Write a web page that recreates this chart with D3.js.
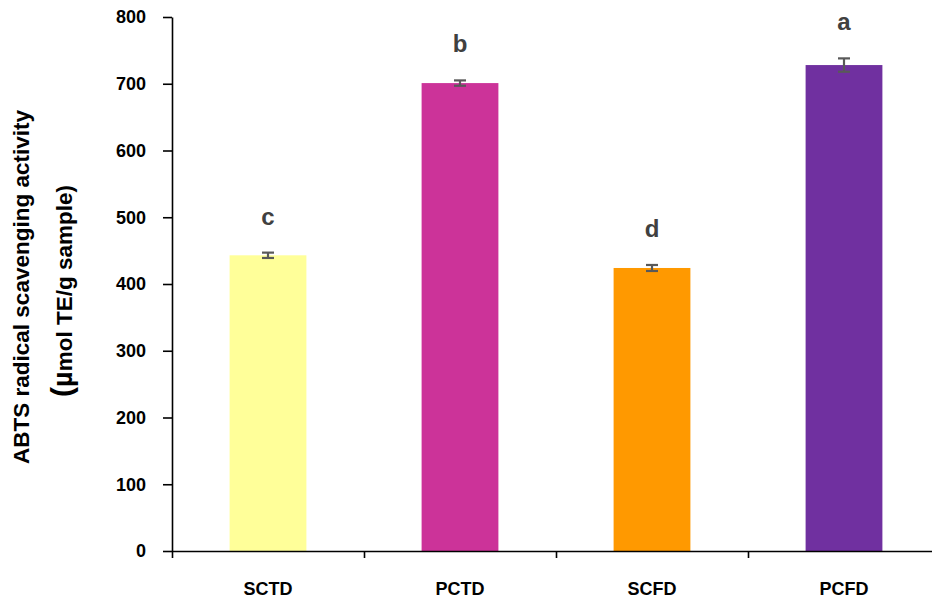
<!DOCTYPE html>
<html>
<head>
<meta charset="utf-8">
<script src="https://cdn.jsdelivr.net/npm/d3@7"></script>
<style>
  body { margin: 0; background: #fff; }
  text { font-family: Arial, "Liberation Sans", sans-serif; font-weight: bold; }
</style>
</head>
<body>
<svg id="chart"></svg>
<script>
const w = 932;
const h = 600;

const samples = ["SCTD", "PCTD", "SCFD", "PCFD"];
const activity = [443, 701, 424, 728];
const errors = [4, 4, 4.5, 10];
const letters = ["c", "b", "d", "a"];
const colors = ["#ffff99", "#cc3399", "#ff9900", "#7030a0"];
const yTicks = [0, 100, 200, 300, 400, 500, 600, 700, 800];

const plotLeft = 172, plotRight = 940, plotTop = 17, plotBottom = 551;

const svg = d3.select("#chart")
  .attr("width", w)
  .attr("height", h);

const xScale = d3.scaleBand()
  .domain(samples)
  .range([plotLeft, plotRight])
  .paddingInner(0.6)
  .paddingOuter(0.3);

const yScale = d3.scaleLinear()
  .domain([0, 800])
  .range([plotBottom, plotTop]);

const data = samples.map((s, i) => ({
  name: s, value: activity[i], err: errors[i], letter: letters[i], color: colors[i]
}));

// bars
svg.selectAll("rect.bar")
  .data(data)
  .enter()
  .append("rect")
  .attr("class", "bar")
  .attr("x", d => xScale(d.name))
  .attr("y", d => yScale(d.value))
  .attr("width", xScale.bandwidth())
  .attr("height", d => yScale(0) - yScale(d.value))
  .attr("fill", d => d.color);

// error bars
const errG = svg.append("g")
  .attr("stroke", "#595959")
  .attr("stroke-width", 2.2);

data.forEach(d => {
  const cx = xScale(d.name) + xScale.bandwidth() / 2;
  errG.append("line")
    .attr("x1", cx).attr("x2", cx)
    .attr("y1", yScale(d.value + d.err)).attr("y2", yScale(d.value - d.err));
  [d.value + d.err, d.value - d.err].forEach(v => {
    errG.append("line")
      .attr("x1", cx - 6).attr("x2", cx + 6)
      .attr("y1", yScale(v)).attr("y2", yScale(v));
  });
});

// significance letters
svg.selectAll("text.sig")
  .data(data)
  .enter()
  .append("text")
  .attr("class", "sig")
  .attr("x", d => xScale(d.name) + xScale.bandwidth() / 2)
  .attr("y", d => yScale(d.value + d.err) - 28)
  .attr("text-anchor", "middle")
  .attr("fill", "#404040")
  .style("font-size", "24px")
  .text(d => d.letter);

// y axis
const yAxis = d3.axisLeft(yScale)
  .tickValues(yTicks)
  .tickSize(9)
  .tickSizeOuter(0)
  .tickPadding(17);

const yG = svg.append("g")
  .attr("transform", `translate(${plotLeft},0)`)
  .call(yAxis);
yG.selectAll("text").style("font-size", "18px").attr("fill", "#000");

// x axis with boundary ticks
const boundary = d3.scaleLinear().domain([0, samples.length]).range([plotLeft, plotRight]);
const xAxis = d3.axisBottom(boundary)
  .tickValues(d3.range(0, samples.length + 1))
  .tickFormat("")
  .tickSize(7)
  .tickSizeOuter(0);

const xG = svg.append("g")
  .attr("transform", `translate(0,${plotBottom})`)
  .call(xAxis);

[yG, xG].forEach(g => {
  g.selectAll("path, line").attr("stroke", "#000").attr("stroke-width", 1.6);
});

// category labels
const labelAxis = d3.axisBottom(xScale).tickSize(0).tickPadding(31);
const lG = svg.append("g")
  .attr("transform", `translate(0,${plotBottom})`)
  .call(labelAxis);
lG.select(".domain").remove();
lG.selectAll("text").style("font-size", "18px").attr("fill", "#000");

// y title
const midY = (plotTop + plotBottom) / 2 + 3;
svg.append("text")
  .attr("transform", `translate(29,${midY}) rotate(-90)`)
  .attr("text-anchor", "middle")
  .style("font-size", "22.5px")
  .attr("fill", "#000")
  .text("ABTS radical scavenging activity");

const t2 = svg.append("text")
  .attr("transform", `translate(72,${midY + 4}) rotate(-90)`)
  .attr("text-anchor", "middle")
  .style("font-size", "22.5px")
  .attr("fill", "#000");
t2.append("tspan").style("font-size", "30px").text("(");
t2.append("tspan").style("font-size", "27px").text("µ");
t2.append("tspan").text("mol TE/g sample)");
</script>
</body>
</html>
